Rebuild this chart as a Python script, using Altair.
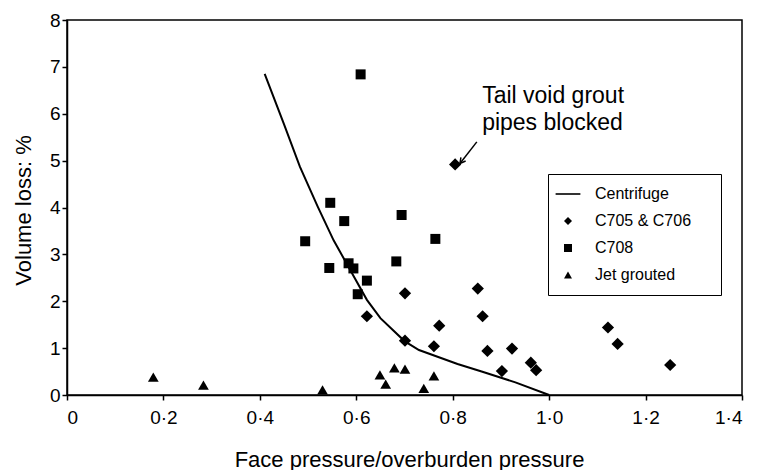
import altair as alt
import pandas as pd

# ---- data ----
# C705 & C706 (diamonds)
c705_x = [0.805, 0.701, 0.622, 0.772, 0.701, 0.761, 0.852, 0.862, 0.872, 0.923, 0.902, 0.962, 0.973, 1.122, 1.142, 1.251]
c705_y = [4.92, 2.17, 1.68, 1.48, 1.16, 1.04, 2.27, 1.68, 0.94, 0.99, 0.51, 0.69, 0.53, 1.44, 1.09, 0.64]

# C708 (squares)
c708_x = [0.609, 0.546, 0.575, 0.494, 0.694, 0.764, 0.544, 0.584, 0.594, 0.683, 0.622, 0.603]
c708_y = [6.84, 4.10, 3.71, 3.28, 3.84, 3.33, 2.71, 2.81, 2.70, 2.85, 2.44, 2.15]

# Jet grouted (triangles)
jet_x = [0.179, 0.283, 0.530, 0.649, 0.661, 0.679, 0.701, 0.761, 0.740]
jet_y = [0.38, 0.21, 0.11, 0.43, 0.23, 0.58, 0.55, 0.41, 0.14]

# Centrifuge curve
cent_x = [0.41, 0.45, 0.483, 0.52, 0.553, 0.59, 0.622, 0.65, 0.70, 0.73, 0.81, 0.86, 0.93, 1.0]
cent_y = [6.85, 5.78, 4.87, 4.02, 3.30, 2.62, 2.03, 1.64, 1.15, 0.96, 0.66, 0.50, 0.27, 0.0]

series_names = ["Centrifuge", "C705 & C706", "C708", "Jet grouted"]
marker_sizes = {"C705 & C706": 150, "C708": 100, "Jet grouted": 115}
x_ticks = [0, 0.2, 0.4, 0.6, 0.8, 1.0, 1.2, 1.4]
y_ticks = [0, 1, 2, 3, 4, 5, 6, 7, 8]

annotation_lines = ["Tail void grout", "pipes blocked"]
annotation_pos = {"x": 0.861, "y": 6.23}
arrow_from = {"x": 0.850, "y": 5.40}
arrow_to = {"x": 0.815, "y": 4.94}

FONT = "Liberation Sans"

pts = pd.DataFrame({
    "x": c705_x + c708_x + jet_x,
    "y": c705_y + c708_y + jet_y,
    "series": ["C705 & C706"] * len(c705_x) + ["C708"] * len(c708_x) + ["Jet grouted"] * len(jet_x),
})
curve = pd.DataFrame({"x": cent_x, "y": cent_y})

xscale = alt.Scale(domain=[0, 1.4], nice=False, zero=False)
yscale = alt.Scale(domain=[0, 8], nice=False)

xaxis = alt.Axis(
    values=x_ticks,
    labelExpr="datum.value == 0 ? '0' : replace(format(datum.value, '.1f'), '.', '\u00b7')",
    title="Face pressure/overburden pressure",
    grid=False, tickSize=5, labelPadding=8,
    titleX=342, titleY=71, titleBaseline="alphabetic",
)
yaxis = alt.Axis(
    values=y_ticks, format="d",
    title="Volume loss: %",
    grid=False, tickSize=5, labelPadding=2,
    titleX=-44, titleY=190, titleBaseline="middle",
)

line_sym = "M-3.1,-0.2H3.1V0.2H-3.1Z"
shape_scale = alt.Scale(domain=series_names, range=[line_sym, "diamond", "square", "triangle-up"])
legend = alt.Legend(
    title="\u2800", titleOrient="right", titlePadding=12, titleFontSize=8, titleColor="white",
    orient="none", legendX=481, legendY=154,
    strokeColor="black", padding=12,
    symbolSize=64, symbolFillColor="black", symbolStrokeColor="black",
    labelFont=FONT, labelFontSize=16, labelColor="black",
    labelOffset=19, rowPadding=11,
)

line = alt.Chart(curve).mark_line(color="black", strokeWidth=2).encode(
    x=alt.X("x:Q", scale=xscale, axis=xaxis),
    y=alt.Y("y:Q", scale=yscale, axis=yaxis),
)

point_layers = []
for name, sz in marker_sizes.items():
    point_layers.append(
        alt.Chart(pts).transform_filter(alt.datum.series == name)
        .mark_point(filled=True, color="black", opacity=1, size=sz)
        .encode(
            x=alt.X("x:Q", scale=xscale, axis=xaxis),
            y=alt.Y("y:Q", scale=yscale, axis=yaxis),
            shape=alt.Shape("series:N", scale=shape_scale, legend=legend),
        )
    )

arrow_df = pd.DataFrame({"x": [arrow_from["x"]], "y": [arrow_from["y"]],
                         "x2": [arrow_to["x"]], "y2": [arrow_to["y"]]})
arrow = alt.Chart(arrow_df).mark_rule(color="black", strokeWidth=1.5).encode(
    x="x:Q", y="y:Q", x2="x2:Q", y2="y2:Q"
)
head = alt.Chart(arrow_df).mark_point(
    shape="M-0.5,0.9L0,0L0.5,0.9", filled=False, size=144, angle=218,
    color="black", strokeWidth=1.5, opacity=1,
).encode(x="x2:Q", y="y2:Q")

text_df = pd.DataFrame({"x": [annotation_pos["x"]], "y": [annotation_pos["y"]]})
text = alt.Chart(text_df).mark_text(
    align="left", baseline="alphabetic", font=FONT, fontSize=23, lineHeight=27, color="black"
).encode(x="x:Q", y="y:Q", text=alt.value(annotation_lines))

chart = alt.layer(line, *point_layers, arrow, head, text).properties(
    width=675, height=375,
    padding={"left": 59, "top": 12, "right": 10, "bottom": 80},
    autosize=alt.AutoSizeParams(type="none"),
).configure_view(
    stroke="black", strokeWidth=1.5
).configure_axis(
    domainColor="black", domainWidth=1.5, tickColor="black", tickWidth=1.5,
    labelColor="black", titleColor="black", labelFont=FONT, titleFont=FONT,
    labelFontSize=19, titleFontSize=22, titleFontWeight="normal",
)

chart.save("out.html", embed_options={"renderer": "svg", "actions": False})
